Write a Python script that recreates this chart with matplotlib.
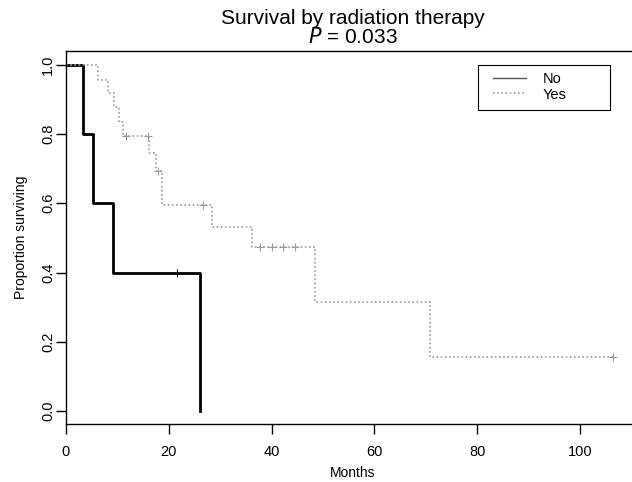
import numpy as np
import matplotlib.pyplot as plt
from matplotlib.patches import Rectangle

# Kaplan-Meier steps
no_times = [0, 3.4, 5.3, 9.2, 26.0]
no_surv = [1.0, 0.8, 0.6, 0.4, 0.0]
no_cens_t = [21.6]
no_cens_s = [0.4]

yes_times = [0, 6.3, 8.2, 9.3, 10.4, 11.1, 16.2, 17.5, 18.6, 28.4, 36.2, 48.4, 70.8, 106.4]
yes_surv = [1.0, 0.957, 0.918, 0.877, 0.836, 0.793, 0.745, 0.692, 0.595, 0.532, 0.474, 0.316, 0.157, 0.157]
yes_cens_t = [11.6, 16.0, 18.0, 26.7, 37.7, 40.0, 42.2, 44.6, 106.4]
yes_cens_s = [0.793, 0.793, 0.692, 0.595, 0.474, 0.474, 0.474, 0.474, 0.157]

groups = ['No', 'Yes']
xticks = [0, 20, 40, 60, 80, 100]
yticks = [0.0, 0.2, 0.4, 0.6, 0.8, 1.0]

plt.rcParams['font.family'] = ['Liberation Sans', 'DejaVu Sans']

fig = plt.figure(figsize=(6.32, 4.82), dpi=100)
ax = fig.add_axes([66/632, 58/482, 574/632, 373/482])

yes_col = '#9a9a9a'
yes_ls = (0, (1, 1.5))

ax.step(no_times, no_surv, where='post', color='black', lw=2)
ax.plot(no_cens_t, no_cens_s, '+', color='black', ms=6, mew=0.8)
ax.step(yes_times, yes_surv, where='post', color=yes_col, lw=1.2, ls=yes_ls)
ax.plot(yes_cens_t, yes_cens_s, '+', color=yes_col, ms=6, mew=0.8)

ax.set_xlim(0, 111.7)
ax.set_ylim(-0.0376, 1.040)
ax.set_xticks(xticks)
ax.set_yticks(yticks)
ax.set_yticklabels([f'{v:.1f}' for v in yticks], rotation=90, va='center')
ax.tick_params(direction='out', length=7, width=1, labelsize=10.5)
ax.tick_params(axis='x', pad=8)
ax.tick_params(axis='y', pad=1)
for s in ax.spines.values():
    s.set_linewidth(1.0)

ax.set_xlabel('Months', fontsize=10, labelpad=5)
ax.set_ylabel('Proportion surviving', fontsize=10, labelpad=9)

fig.text(353/632, 1 - 18/482, 'Survival by radiation therapy', ha='center', va='center', fontsize=15)
fig.text(353/632, 1 - 37/482, r'$P$ = 0.033', ha='center', va='center', fontsize=15)

# R-style legend box
ax.add_patch(Rectangle((0.7178, 0.8418), 0.2299, 0.1207, transform=ax.transAxes,
                       fill=False, edgecolor='black', lw=0.8))
ax.plot([0.7439, 0.8014], [0.9268, 0.9268], transform=ax.transAxes, color='#555555', lw=1)
ax.plot([0.7439, 0.8014], [0.8866, 0.8866], transform=ax.transAxes, color=yes_col, lw=1.2, ls=yes_ls)
ax.text(0.831, 0.9236, groups[0], transform=ax.transAxes, va='center', fontsize=10.5)
ax.text(0.831, 0.8820, groups[1], transform=ax.transAxes, va='center', fontsize=10.5)

fig.savefig('out.png', dpi=100)
